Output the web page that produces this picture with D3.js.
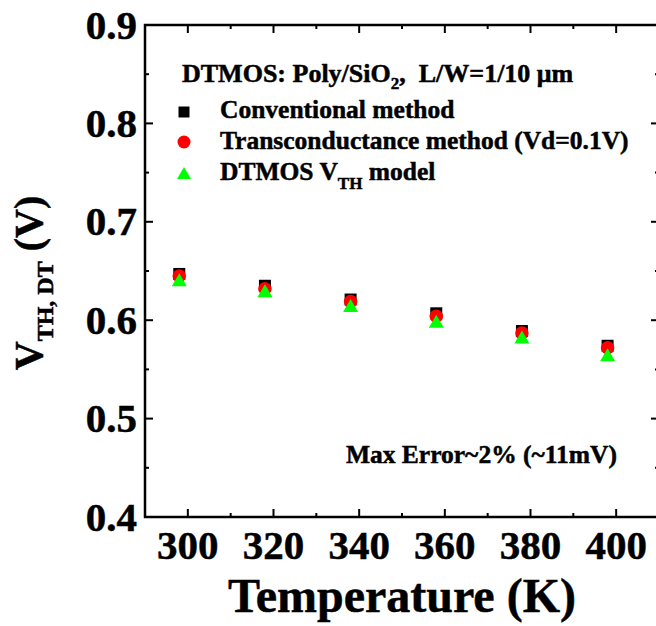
<!DOCTYPE html>
<html><head><meta charset="utf-8">
<script src="https://cdn.jsdelivr.net/npm/d3@7"></script>
<style>
html,body{margin:0;padding:0;background:#fff;overflow:hidden}
svg{display:block}
text{font-family:"Liberation Serif","Times New Roman",Tinos,serif;font-weight:bold;fill:#000;stroke:#000;stroke-width:0.5px}
</style></head>
<body>
<svg id="chart" width="656" height="626"></svg>
<script>
const temperatures = [298, 318, 338, 358, 378, 398];
const conventional = [0.647, 0.635, 0.621, 0.607, 0.589, 0.574];
const transconductance = [0.645, 0.632, 0.619, 0.604, 0.587, 0.572];
const dtmosModel = [0.641, 0.630, 0.615, 0.599, 0.583, 0.565];
const xTicks = [300, 320, 340, 360, 380, 400];
const yTicks = [0.4, 0.5, 0.6, 0.7, 0.8, 0.9];
const xMinorTicks = [290, 310, 330, 350, 370, 390, 410];
const yMinorTicks = [0.45, 0.55, 0.65, 0.75, 0.85];

const svg = d3.select("#chart");
const L = 145, R = 659, T = 25, B = 517;
const x = d3.scaleLinear().domain([290, 410]).range([L, R]);
const y = d3.scaleLinear().domain([0.4, 0.9]).range([B, T]);

// frame
svg.append("rect").attr("x", L).attr("y", T).attr("width", R - L).attr("height", B - T)
  .attr("fill", "none").attr("stroke", "#000").attr("stroke-width", 2.5);

const tickG = svg.append("g").attr("stroke", "#000").attr("stroke-width", 2);
function hTicks(vals, len) {
  vals.forEach(v => {
    tickG.append("line").attr("x1", x(v)).attr("x2", x(v)).attr("y1", B).attr("y2", B - len);
    tickG.append("line").attr("x1", x(v)).attr("x2", x(v)).attr("y1", T).attr("y2", T + len);
  });
}
function vTicks(vals, len) {
  vals.forEach(v => {
    tickG.append("line").attr("y1", y(v)).attr("y2", y(v)).attr("x1", L).attr("x2", L + len);
    tickG.append("line").attr("y1", y(v)).attr("y2", y(v)).attr("x1", R).attr("x2", R - len);
  });
}
hTicks(xTicks, 8); hTicks(xMinorTicks, 4);
vTicks(yTicks, 8); vTicks(yMinorTicks, 4);

// tick labels
svg.append("g").selectAll("text").data(xTicks).join("text")
  .attr("x", d => x(d)).attr("y", 559).attr("text-anchor", "middle")
  .attr("font-size", 41).text(d => d);
svg.append("g").selectAll("text").data(yTicks).join("text")
  .attr("x", 137).attr("y", d => y(d)).attr("dy", "0.33em").attr("text-anchor", "end")
  .attr("font-size", 41).text(d => d.toFixed(1));

// axis titles
svg.append("text").attr("x", (L + 657) / 2 + 1).attr("y", 612).attr("text-anchor", "middle")
  .attr("font-size", 48).text("Temperature (K)");
const yt = svg.append("text").attr("transform", "translate(42,283) rotate(-90)")
  .attr("text-anchor", "middle").attr("font-size", 40);
yt.append("tspan").text("V");
yt.append("tspan").attr("font-size", 24).attr("dy", 11).text("TH, DT");
yt.append("tspan").attr("dy", -11).text(" (V)");

// markers
const sq = 12, cd = 13.5, tw = 15, th = 13;
const triPath = `M0,${-th/2}L${tw/2},${th/2}L${-tw/2},${th/2}Z`;
svg.append("g").selectAll("rect").data(temperatures).join("rect")
  .attr("x", (d) => x(d) - sq / 2).attr("y", (d, i) => y(conventional[i]) - sq / 2)
  .attr("width", sq).attr("height", sq).attr("fill", "#000");
svg.append("g").selectAll("circle").data(temperatures).join("circle")
  .attr("cx", d => x(d)).attr("cy", (d, i) => y(transconductance[i]))
  .attr("r", cd / 2).attr("fill", "#ff0000");
svg.append("g").selectAll("path").data(temperatures).join("path")
  .attr("transform", (d, i) => `translate(${x(d)},${y(dtmosModel[i])})`)
  .attr("d", triPath).attr("fill", "#00ff00");

// legend
const lt = svg.append("text").attr("x", 182).attr("y", 82).attr("font-size", 26);
lt.append("tspan").text("DTMOS: Poly/SiO");
lt.append("tspan").attr("font-size", 17).attr("dy", 7).text("2");
lt.append("tspan").attr("dy", -7).text(",\u00a0\u00a0L/W=1/10 \u03bcm");

svg.append("rect").attr("x", 184 - 5.5).attr("y", 112 - 5.5).attr("width", 11).attr("height", 11).attr("fill", "#000");
svg.append("text").attr("x", 220).attr("y", 118).attr("font-size", 25.5).text("Conventional method");
svg.append("circle").attr("cx", 184).attr("cy", 142).attr("r", 6.5).attr("fill", "#ff0000");
svg.append("text").attr("x", 220).attr("y", 149).attr("font-size", 25.5).text("Transconductance method (Vd=0.1V)");
svg.append("path").attr("transform", "translate(184,173)").attr("d", "M0,-6L7,6L-7,6Z").attr("fill", "#00ff00");
const l3 = svg.append("text").attr("x", 220).attr("y", 180).attr("font-size", 25.5);
l3.append("tspan").text("DTMOS V");
l3.append("tspan").attr("font-size", 17).attr("dy", 9).text("TH");
l3.append("tspan").attr("dy", -9).text(" model");

svg.append("text").attr("x", 617).attr("y", 463).attr("text-anchor", "end").attr("font-size", 25.5)
  .text("Max Error~2% (~11mV)");
</script>
</body></html>
